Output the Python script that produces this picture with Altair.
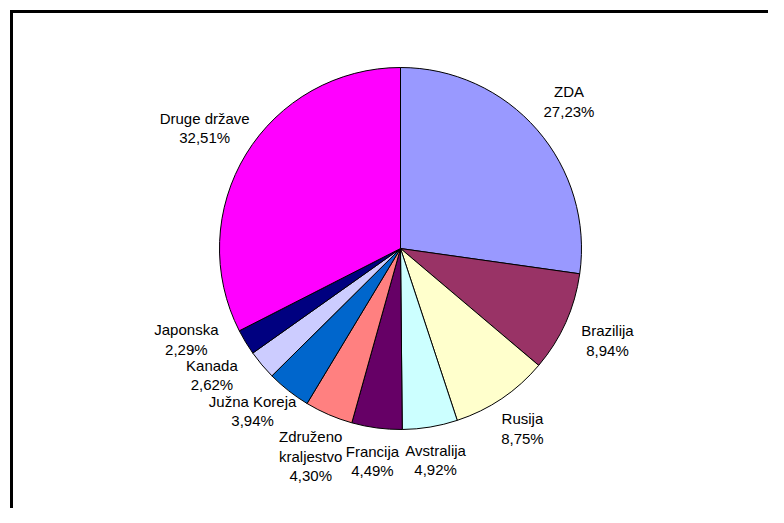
import math
import altair as alt
import pandas as pd

# ---- data ----
countries = ["ZDA", "Brazilija", "Rusija", "Avstralija", "Francija",
             "Združeno kraljestvo", "Južna Koreja", "Kanada", "Japonska", "Druge države"]
label_lines = [["ZDA"], ["Brazilija"], ["Rusija"], ["Avstralija"], ["Francija"],
               ["Združeno", "kraljestvo"], ["Južna Koreja"], ["Kanada"], ["Japonska"],
               ["Druge države"]]
shares = [27.23, 8.94, 8.75, 4.92, 4.49, 4.30, 3.94, 2.62, 2.29, 32.51]
colors = ["#9999FF", "#993366", "#FFFFCC", "#CCFFFF", "#660066",
          "#FF8080", "#0066CC", "#CCCCFF", "#000080", "#FF00FF"]
title_text = "Geografska sestava naložb v delnice (po državah)"

# ---- layout ----
W, H = 760, 500
CX, CY, R = 390.5, 238.5, 181
FONT, LH = 15, 19.5
GAP = 17
ANG_W = 1.4

# approximate Arial advance widths (em units), used only to keep labels apart
cw = {"i": 0.222, "j": 0.222, "l": 0.222, "r": 0.333, "t": 0.278, "f": 0.278,
      ",": 0.278, "%": 0.889, " ": 0.278, "k": 0.5, "v": 0.5, "ž": 0.5, "z": 0.5,
      "s": 0.5, "c": 0.5, "m": 0.833, "Z": 0.611, "Ž": 0.611, "D": 0.722, "A": 0.667,
      "B": 0.667, "R": 0.722, "F": 0.611, "J": 0.5, "K": 0.667}


def text_w(s):
    return sum(cw.get(ch, 0.556) for ch in s) * FONT


def pct(v):
    return f"{v:.2f}".replace(".", ",") + "%"


total = sum(shares)
mids = []
acc = 0.0
for v in shares:
    mids.append((acc + v / 2) / total * 2 * math.pi)
    acc += v


def base_r(th, hw, hh):
    sx, sy = abs(math.sin(th)), abs(math.cos(th))
    a = hw / sx if sx > 1e-6 else 1e9
    b = hh / sy if sy > 1e-6 else 1e9
    return R + GAP + min(a, b)


placed = []
lab_x, lab_y, labels = [], [], []
for i, v in enumerate(shares):
    lines = label_lines[i] + [pct(v)]
    hw = max(text_w(s) for s in lines) / 2
    hh = len(lines) * LH / 2 - 3
    r0 = base_r(mids[i], hw, hh)
    best = None
    for k in range(0, 41):
        dth = math.radians(k * 0.5)
        th = mids[i] + dth
        for dr in range(0, 81):
            r = base_r(th, hw, hh) + dr
            x, y = r * math.sin(th), -r * math.cos(th)
            ok = all(abs(x - px) >= hw + pw + 2 or abs(y - py) >= hh + ph + 2
                     for px, py, pw, ph in placed)
            if ok:
                cost = math.hypot(r - r0, ANG_W * r0 * dth)
                if best is None or cost < best[0]:
                    best = (cost, x, y)
                break
    _, x, y = best
    placed.append((x, y, hw, hh))
    lab_x.append(CX + x)
    # Vega anchors the first line: shift so the whole block is centred
    lab_y.append(CY + y - (len(lines) - 1) * LH / 2)
    labels.append("\n".join(lines))

df = pd.DataFrame({
    "country": countries,
    "share": shares,
    "idx": list(range(len(countries))),
    "label": labels,
    "lx": lab_x,
    "ly": lab_y,
})

base = alt.Chart(df)

pie = base.mark_arc(radius=R, stroke="black", strokeWidth=1).encode(
    theta=alt.Theta("share:Q", stack=True),
    order=alt.Order("idx:Q", sort="ascending"),
    color=alt.Color("country:N", scale=alt.Scale(domain=countries, range=colors), legend=None),
    x=alt.value(CX),
    y=alt.value(CY),
)

text = base.mark_text(font="Liberation Sans", fontSize=FONT, lineBreak="\n", lineHeight=LH,
                      align="center", baseline="middle", color="black").encode(
    x=alt.X("lx:Q", scale=None),
    y=alt.Y("ly:Q", scale=None),
    text="label:N",
)

one = pd.DataFrame({"k": [0]})
frame_top = alt.Chart(one).mark_rule(color="black", strokeWidth=3).encode(
    x=alt.value(0), x2=alt.value(W), y=alt.value(1.5))
frame_left = alt.Chart(one).mark_rule(color="black", strokeWidth=3).encode(
    x=alt.value(1.5), y=alt.value(0), y2=alt.value(H))

chart = alt.layer(frame_top, frame_left, pie, text).properties(
    width=W, height=H, padding=0,
    description=title_text,
    autosize=alt.AutoSizeParams(type="fit", contains="padding"),
).configure_view(stroke="transparent", strokeWidth=0)

chart.save("out.html", embed_options={"renderer": "svg", "actions": False})
